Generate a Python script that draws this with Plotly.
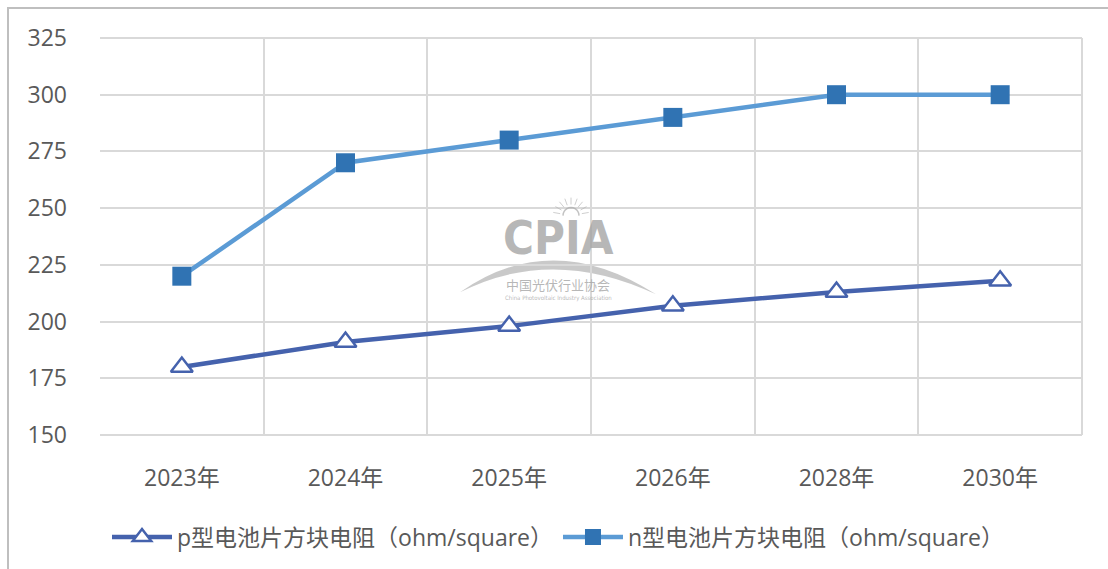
import math
import plotly.graph_objects as go

# Sheet resistance forecast for p-type and n-type cells (ohm/square)
years = ["2023年", "2024年", "2025年", "2026年", "2028年", "2030年"]
p_type = [180, 191, 198, 207, 213, 218]
n_type = [220, 270, 280, 290, 300, 300]
y_ticks = [150, 175, 200, 225, 250, 275, 300, 325]

p_name = "p型电池片方块电阻（ohm/square）"
n_name = "n型电池片方块电阻（ohm/square）"

FONT = "Open Sans, Noto Sans CJK SC"
TEXT = "#595959"
GRID = "#d9d9d9"

W, H = 1108, 569
L, R, T, B = 100, 26, 38, 133


def px_x(px):
    return (px - L) / (W - L - R)


def px_y(py):
    return (H - B - py) / (H - B - T)


fig = go.Figure()

fig.add_trace(go.Scatter(
    x=years, y=p_type, name=p_name, mode="lines+markers",
    line=dict(color="#4562ad", width=4.5),
    marker=dict(symbol="triangle-up", size=19, color="white",
                line=dict(color="#4562ad", width=2.5)),
))
fig.add_trace(go.Scatter(
    x=years, y=n_type, name=n_name, mode="lines+markers",
    line=dict(color="#5b9bd5", width=4.5),
    marker=dict(symbol="square", size=19, color="#3073b3",
                line=dict(color="#3073b3", width=0)),
))

# Watermark logo
wm = "rgba(160,160,160,0.75)"
fig.add_annotation(xref="paper", yref="paper", x=px_x(558), y=px_y(238),
                   text="<b>CPIA</b>", showarrow=False,
                   font=dict(family="DejaVu Sans Condensed", size=47, color=wm))
fig.add_annotation(xref="paper", yref="paper", x=px_x(558), y=px_y(285),
                   text="中国光伏行业协会", showarrow=False,
                   font=dict(family="Noto Sans CJK SC", size=13, color=wm))
fig.add_annotation(xref="paper", yref="paper", x=px_x(558), y=px_y(299),
                   text="China Photovoltaic Industry Association", showarrow=False,
                   font=dict(family="DejaVu Sans Condensed", size=6, color=wm))
arc = (f"M {px_x(460)},{px_y(293)} "
       f"Q {px_x(552)},{px_y(228)} {px_x(656)},{px_y(295)} "
       f"Q {px_x(552)},{px_y(246)} {px_x(460)},{px_y(293)} Z")
fig.add_shape(type="path", xref="paper", yref="paper", path=arc,
              fillcolor="rgba(165,165,165,0.6)", line=dict(width=0), layer="below")

# Small sun above the logo letters
cx, cy = 571, 216
sun = f"M {px_x(cx - 8)},{px_y(cy)} " + " ".join(
    f"L {px_x(cx - 8 * math.cos(math.radians(a)))},{px_y(cy - 8 * math.sin(math.radians(a)))}"
    for a in range(0, 181, 15))
fig.add_shape(type="path", xref="paper", yref="paper", path=sun,
              line=dict(color="rgba(170,170,170,0.7)", width=1.5))
for a in range(10, 171, 20):
    ca, sa = math.cos(math.radians(a)), math.sin(math.radians(a))
    fig.add_shape(type="line", xref="paper", yref="paper",
                  x0=px_x(cx - 11 * ca), y0=px_y(cy - 11 * sa),
                  x1=px_x(cx - 18 * ca), y1=px_y(cy - 18 * sa),
                  line=dict(color="rgba(175,175,175,0.6)", width=1))

# Outer frame of the chart area
fig.add_shape(type="rect", xref="paper", yref="paper",
              x0=px_x(8), x1=px_x(1130), y0=px_y(600), y1=px_y(8),
              line=dict(color="#bfbfbf", width=2), fillcolor="rgba(0,0,0,0)")

fig.update_layout(
    width=W, height=H,
    margin=dict(l=L, r=R, t=T, b=B),
    paper_bgcolor="white", plot_bgcolor="white",
    font=dict(family=FONT, size=23, color=TEXT),
    showlegend=True,
    legend=dict(orientation="h", x=px_x(558), xanchor="center",
                y=px_y(537), yanchor="middle",
                font=dict(family=FONT, size=23, color=TEXT),
                itemwidth=60, entrywidth=0),
    xaxis=dict(type="category", range=[-0.5, 5.5], tickson="boundaries",
               showgrid=True, gridcolor=GRID, gridwidth=2,
               showline=False, zeroline=False, ticks="",
               tickfont=dict(size=23, color=TEXT), ticklabelstandoff=27),
    yaxis=dict(range=[150, 325], tickvals=y_ticks,
               showgrid=True, gridcolor=GRID, gridwidth=2,
               showline=False, zeroline=False, ticks="",
               tickfont=dict(size=23, color=TEXT), ticklabelstandoff=32),
)

# Right, bottom and top edges of the plot grid
fig.add_shape(type="line", xref="paper", yref="paper", x0=1, x1=1, y0=0, y1=1,
              line=dict(color=GRID, width=2), layer="below")
fig.add_shape(type="line", xref="paper", yref="paper", x0=0, x1=1, y0=0, y1=0,
              line=dict(color=GRID, width=2), layer="below")
fig.add_shape(type="line", xref="paper", yref="paper", x0=0, x1=1, y0=1, y1=1,
              line=dict(color=GRID, width=2), layer="below")

fig.write_html("out.html")
